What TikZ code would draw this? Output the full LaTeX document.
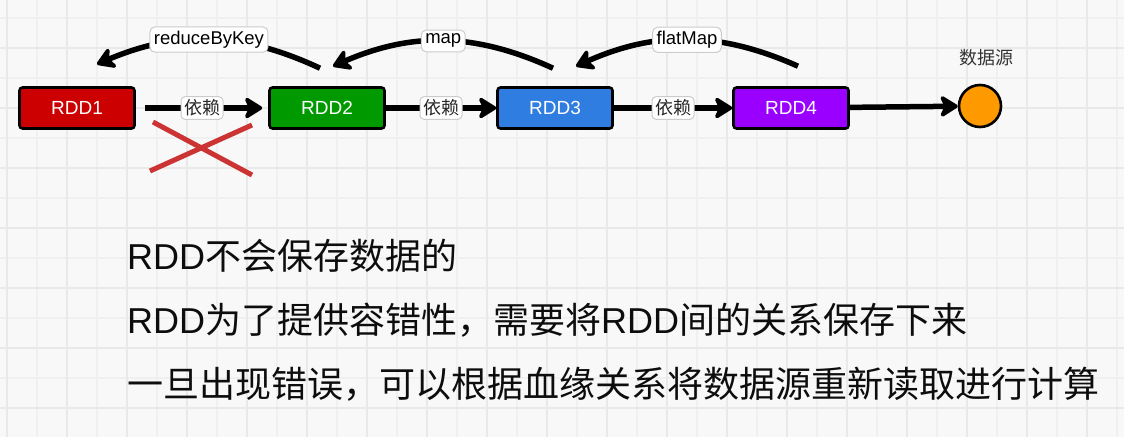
\documentclass[tikz,border=0pt]{standalone}
\usepackage{fontspec}
\setmainfont{Liberation Sans}
\newfontfamily\cjk{Noto Sans CJK SC}
\usetikzlibrary{arrows.meta}
\definecolor{bgc}{HTML}{F8F8F8}
\definecolor{gridminor}{HTML}{F0F0F0}
\definecolor{gridmajor}{HTML}{E9E9E9}
\definecolor{rddred}{HTML}{CC0000}
\definecolor{rddgreen}{HTML}{009900}
\definecolor{rddblue}{HTML}{2F7DE1}
\definecolor{rddpurple}{HTML}{9900FF}
\definecolor{srcorange}{HTML}{FF9900}
\definecolor{crossred}{HTML}{CC3333}

\begin{document}
\begin{tikzpicture}[x=1pt, y=-1pt, >={Stealth[length=21pt,width=26pt,inset=6pt,round]},
    rdd/.style={draw=black, line width=2.6pt, rounded corners=3pt, minimum width=115pt, minimum height=41pt, inner sep=0pt, text=white, font=\fontsize{19}{19}\selectfont},
    dep/.style={fill=white, draw=black!20, line width=1pt, rounded corners=4pt, inner sep=3pt, text=black!85, font=\cjk\fontsize{18}{18}\selectfont},
    op/.style={fill=white, draw=black!20, line width=1pt, rounded corners=5pt, inner xsep=4pt, inner ysep=4pt, font=\fontsize{18.5}{18.5}\selectfont},
    flow/.style={->, line width=5.5pt, black},
    cross/.style={crossred, line width=5pt},
    txt/.style={anchor=base west, inner sep=0pt, text=black!95, font=\fontsize{36}{36}\selectfont}]
    \useasboundingbox (0,0) rectangle (1124,437);
    \fill[bgc] (0,0) rectangle (1124,437);
    \foreach \gx in {7,37,...,1117} \draw[gridminor, line width=1.2pt] (\gx,0) -- (\gx,437);
    \foreach \gy in {18,48,...,408} \draw[gridminor, line width=1.2pt] (0,\gy) -- (1124,\gy);
    \foreach \gx in {7,67,...,1117} \draw[gridmajor, line width=1.4pt] (\gx,0) -- (\gx,437);
    \foreach \gy in {48,108,...,408} \draw[gridmajor, line width=1.4pt] (0,\gy) -- (1124,\gy);
    \node[rdd, fill=rddred] (r1) at (77,108) {RDD1};
    \node[rdd, fill=rddgreen] (r2) at (327,108) {RDD2};
    \node[rdd, fill=rddblue] (r3) at (555,108) {RDD3};
    \node[rdd, fill=rddpurple] (r4) at (791,108) {RDD4};
    \node[circle, draw=black, line width=2.6pt, fill=srcorange, minimum size=42pt, inner sep=0pt] (src) at (980,106) {};
    \node[text=black!80, font=\cjk\fontsize{18}{18}\selectfont] (srclbl) at (986,58) {数据源};
    \draw[flow, shorten <=9pt, shorten >=6pt] (r1) -- node[dep] {依赖} (r2);
    \draw[flow] (r2) -- node[dep] {依赖} (r3);
    \draw[flow] (r3) -- node[dep] {依赖} (r4);
    \draw[flow] (r4) -- (src);
    \coordinate (r1e) at ([xshift=20pt, yshift=22pt]r1.north);
    \coordinate (r2s) at ([xshift=-7pt, yshift=18pt]r2.north);
    \coordinate (r2e) at ([xshift=6pt, yshift=20pt]r2.north);
    \coordinate (r3s) at ([xshift=-2pt, yshift=18pt]r3.north);
    \coordinate (r3e) at ([xshift=21pt, yshift=20pt]r3.north);
    \coordinate (r4s) at ([xshift=7pt, yshift=20pt]r4.north);
    \draw[flow] (r2s) to[bend right=24] node[op] {reduceByKey} (r1e);
    \draw[flow] (r3s) to[bend right=24] node[op] {map} (r2e);
    \draw[flow] (r4s) to[bend right=24] node[op] {flatMap} (r3e);
    \draw[cross] (153,122) -- (252,175);
    \draw[cross] (150,171) -- (252,125);
    \node[txt] (t1) at (127,269) {RDD{\cjk 不会保存数据的}};
    \node[txt] (t2) at (127,333) {RDD{\cjk 为了提供容错性，需要将}RDD{\cjk 间的关系保存下来}};
    \node[txt] (t3) at (127,397) {\cjk 一旦出现错误，可以根据血缘关系将数据源重新读取进行计算};
\end{tikzpicture}
\end{document}
